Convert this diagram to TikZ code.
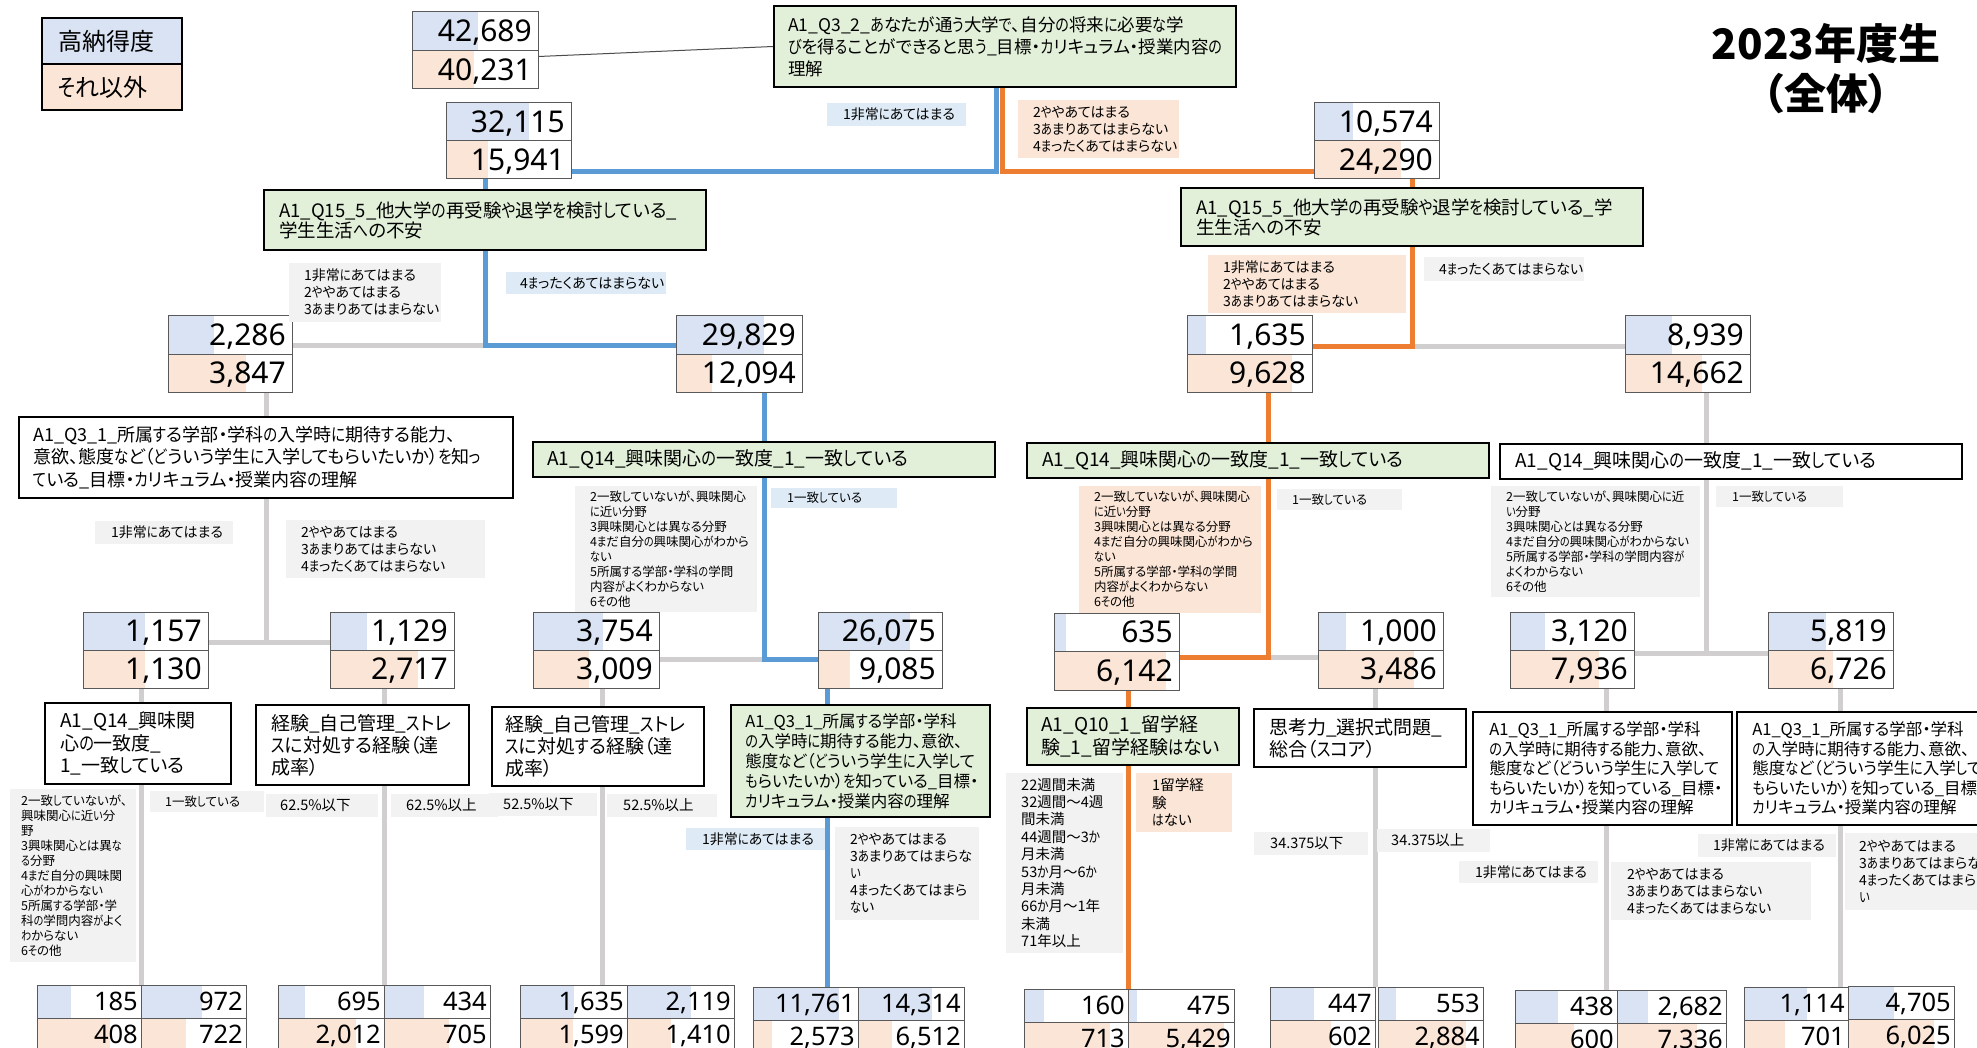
\documentclass[tikz,border=0pt]{standalone}
\usepackage{fontspec}
\setmainfont{Noto Sans CJK JP}[RawFeature=+palt]
\newfontfamily\kanaf{Noto Sans CJK JP}[RawFeature=+palt, FakeStretch=0.8]
\newfontfamily\numf{Noto Sans}
\XeTeXinterchartokenstate=1
\newXeTeXintercharclass\KanaClass
\newcount\kanacnt
\kanacnt="3041
\loop\ifnum\kanacnt<"30FB
 \XeTeXcharclass\kanacnt=\KanaClass
 \advance\kanacnt by 1
\repeat
\XeTeXinterchartoks 0 \KanaClass = {\kanaf}
\XeTeXinterchartoks 1 \KanaClass = {\kanaf}
\XeTeXinterchartoks 2 \KanaClass = {\kanaf}
\XeTeXinterchartoks 3 \KanaClass = {\kanaf}
\XeTeXinterchartoks 4095 \KanaClass = {\kanaf}
\XeTeXinterchartoks \KanaClass 0 = {\normalfont}
\XeTeXinterchartoks \KanaClass 1 = {\normalfont}
\XeTeXinterchartoks \KanaClass 2 = {\normalfont}
\XeTeXinterchartoks \KanaClass 3 = {\normalfont}
\XeTeXinterchartoks \KanaClass 4095 = {\normalfont}
\usetikzlibrary{fit,calc}
\pgfdeclarelayer{bg}
\pgfsetlayers{bg,main}
\definecolor{bfill}{RGB}{218,227,243}
\definecolor{pfill}{RGB}{251,229,214}
\definecolor{qgreen}{RGB}{226,240,217}
\definecolor{lblue}{RGB}{222,235,247}
\definecolor{lgray}{RGB}{242,242,242}
\definecolor{lpeach}{RGB}{251,229,214}
\definecolor{cblue}{RGB}{91,155,213}
\definecolor{corange}{RGB}{237,125,49}
\definecolor{cgray}{RGB}{208,206,206}
\definecolor{nbord}{RGB}{89,89,89}
\tikzset{
 nbox/.style={draw=nbord, line width=1pt, inner sep=0pt},
 numtxt/.style={inner sep=0pt, font=\numf\fontsize{\nfs}{\nfs}\selectfont},
 qg/.style={draw=black, line width=1.8pt, fill=qgreen, inner sep=0pt},
 qw/.style={draw=black, line width=1.8pt, fill=white, inner sep=0pt},
 qtxt/.style={inner sep=0pt, align=left},
 LM/.style={font=\fontsize{14}{17}\selectfont},
 LS/.style={font=\fontsize{12.5}{15}\selectfont},
 LB/.style={font=\fontsize{14.5}{17.4}\selectfont},
 bl/.style={draw=cblue, line width=5pt},
 orl/.style={draw=corange, line width=5pt},
 gr/.style={draw=cgray, line width=5pt},
 rootline/.style={draw=black!70, line width=1pt},
}
\def\nfs{30}\def\npad{6}
\newcommand\nbox[9]{%
 \pgfmathsetmacro\ymid{(#3+#5)/2}%
 \pgfmathsetmacro\ytb{(#3+\ymid)/2+0.357*\nfs}%
 \pgfmathsetmacro\ybb{(\ymid+#5)/2+0.357*\nfs}%
 \pgfmathsetmacro\xr{#4-\npad}%
 \fill[bfill] (#2,#3) rectangle (#6,\ymid);
 \fill[pfill] (#2,\ymid) rectangle (#7,#5);
 \node[nbox, fit={(#2,#3)(#4,#5)}] (#1) {};
 \draw[nbord, line width=1pt] (#2,\ymid) -- (#4,\ymid);
 \node[numtxt, anchor=base east] (#1-t) at (\xr,\ytb) {#8};
 \node[numtxt, anchor=base east] (#1-b) at (\xr,\ybb) {#9};
}
\newcommand\qbox[9][\fontsize{19}{22}\selectfont]{%
 \node[#3, fit={(#4,#5)(#6,#7)}] (#2) {};
 \node[qtxt, font=#1, anchor=west] (#2-t) at ($(#2.west)+(#8,0)$) {#9};
}
\newcommand\lab[9][LM]{%
 \fill[#3] (#4,#5) rectangle (#6,#7);
 \node[#1, anchor=west, align=left, inner sep=0pt] (#2) at ({#4+#8},{(#5+#7)/2}) {#9};
}
\begin{document}
\begin{tikzpicture}[x=1pt,y=-1pt]
\useasboundingbox (0,0) rectangle (1977,1048);
\begin{pgfonlayer}{bg}
\fill[white] (0,0) rectangle (1977,1048);
\end{pgfonlayer}

% legend
\fill[bfill] (42,18) rectangle (182,64);
\fill[pfill] (42,64) rectangle (182,110);
\node[draw=black, line width=2pt, inner sep=0pt, fit={(42,18)(182,110)}] (legend) {};
\draw[black, line width=2pt] (legend.west) -- (legend.east);
\node[anchor=west, inner sep=0pt, font=\fontsize{24}{24}\selectfont] (leg1) at (58,41) {高納得度};
\node[anchor=west, inner sep=0pt, font=\fontsize{24}{24}\selectfont] (leg2) at (58,87) {それ以外};

% title
\node[align=center, inner sep=0pt, font=\bfseries\fontsize{42}{50}\selectfont] (title) at (1826,69) {2023年度生\\（全体）};

% number boxes
\def\nfs{30}\def\npad{6}
\nbox{root}{412}{12}{538}{89}{478}{474}{42,689}{40,231}
\nbox{n32115}{446}{103}{571}{179}{529}{488}{32,115}{15,941}
\nbox{n10574}{1314}{103}{1439}{179}{1353}{1401}{10,574}{24,290}
\nbox{n2286}{168}{316}{292}{392}{214}{246}{2,286}{3,847}
\nbox{n29829}{676}{316}{802}{392}{764}{712}{29,829}{12,094}
\nbox{n1635}{1187}{316}{1312}{392}{1206}{1292}{1,635}{9,628}
\nbox{n8939}{1625}{316}{1750}{392}{1672}{1702}{8,939}{14,662}
\nbox{n1157}{83}{612}{208}{688}{145}{145}{1,157}{1,130}
\nbox{n1129}{330}{612}{454}{688}{367}{418}{1,129}{2,717}
\nbox{n3754}{533}{612}{659}{688}{603}{589}{3,754}{3,009}
\nbox{n26075}{818}{612}{942}{688}{910}{850}{26,075}{9,085}
\nbox{n635}{1054}{613}{1179}{690}{1066}{1166}{635}{6,142}
\nbox{n1000}{1318}{612}{1443}{688}{1346}{1414}{1,000}{3,486}
\nbox{n3120}{1510}{612}{1634}{688}{1545}{1599}{3,120}{7,936}
\nbox{n5819}{1768}{612}{1893}{688}{1826}{1833}{5,819}{6,726}
\def\nfs{25.5}\def\npad{3}
\nbox{b185}{37}{985}{141}{1051}{71}{110}{185}{408}
\nbox{b972}{141}{985}{246}{1051}{202}{186}{972}{722}
\nbox{b695}{278}{985}{384}{1051}{305}{356}{695}{2,012}
\nbox{b434}{384}{985}{490}{1051}{424}{449}{434}{705}
\nbox{b1635}{520}{985}{627}{1051}{574}{573}{1,635}{1,599}
\nbox{b2119}{627}{985}{734}{1051}{691}{671}{2,119}{1,410}
\nbox{b11761}{753}{987}{858}{1053}{839}{772}{11,761}{2,573}
\nbox{b14314}{858}{987}{964}{1053}{932}{892}{14,314}{6,512}
\nbox{b160}{1024}{989}{1128}{1055}{1044}{1110}{160}{713}
\nbox{b475}{1128}{989}{1234}{1055}{1137}{1224}{475}{5,429}
\nbox{b447}{1270}{987}{1375}{1053}{1314}{1331}{447}{602}
\nbox{b553}{1378}{987}{1483}{1053}{1396}{1466}{553}{2,884}
\nbox{b438}{1515}{990}{1617}{1056}{1558}{1574}{438}{600}
\nbox{b2682}{1617}{990}{1726}{1056}{1648}{1697}{2,682}{7,336}
\nbox{b1114}{1744}{987}{1848}{1053}{1807}{1785}{1,114}{701}
\nbox{b4705}{1848}{986}{1954}{1052}{1894}{1934}{4,705}{6,025}

% question boxes
\qbox[\fontsize{17.5}{22}\selectfont]{q32}{qg}{774}{6}{1236}{87}{15}{A1\_Q3\_2\_あなたが通う大学で、自分の将来に必要な学\\びを得ることができると思う\_目標・カリキュラム・授業内容の\\理解}
\qbox[\fontsize{18.5}{20}\selectfont]{q15L}{qg}{264}{190}{706}{250}{16}{A1\_Q15\_5\_他大学の再受験や退学を検討している\_\\学生生活への不安}
\qbox[\fontsize{18.5}{20}\selectfont]{q15R}{qg}{1181}{188}{1643}{246}{16}{A1\_Q15\_5\_他大学の再受験や退学を検討している\_学\\生生活への不安}
\qbox[\fontsize{18}{22.5}\selectfont]{q31L}{qw}{19}{417}{513}{498}{15}{A1\_Q3\_1\_所属する学部・学科の入学時に期待する能力、\\意欲、態度など（どういう学生に入学してもらいたいか）を知っ\\ている\_目標・カリキュラム・授業内容の理解}
\qbox{q14A}{qg}{533}{442}{995}{477}{15}{A1\_Q14\_興味関心の一致度\_1\_一致している}
\qbox{q14B}{qg}{1027}{443}{1489}{478}{16}{A1\_Q14\_興味関心の一致度\_1\_一致している}
\qbox{q14C}{qw}{1500}{444}{1962}{479}{16}{A1\_Q14\_興味関心の一致度\_1\_一致している}
\qbox[\fontsize{19}{22.5}\selectfont]{q14D}{qw}{45}{703}{231}{784}{16}{A1\_Q14\_興味関\\心の一致度\_\\1\_一致している}
\qbox{k1}{qw}{256}{705}{469}{785}{16}{経験\_自己管理\_ストレ\\スに対処する経験（達\\成率）}
\qbox{k2}{qw}{492}{707}{704}{786}{14}{経験\_自己管理\_ストレ\\スに対処する経験（達\\成率）}
\qbox[\fontsize{16.5}{20}\selectfont]{q31G}{qg}{731}{705}{990}{817}{15}{A1\_Q3\_1\_所属する学部・学科\\の入学時に期待する能力、意欲、\\態度など（どういう学生に入学して\\もらいたいか）を知っている\_目標・\\カリキュラム・授業内容の理解}
\qbox[\fontsize{19}{23}\selectfont]{q10}{qg}{1027}{708}{1239}{765}{15}{A1\_Q10\_1\_留学経\\験\_1\_留学経験はない}
\qbox{sk}{qw}{1254}{709}{1466}{767}{16}{思考力\_選択式問題\_\\総合（スコア）}
\qbox[\fontsize{16.5}{19.5}\selectfont]{q31E}{qw}{1473}{712}{1732}{825}{17}{A1\_Q3\_1\_所属する学部・学科\\の入学時に期待する能力、意欲、\\態度など（どういう学生に入学して\\もらいたいか）を知っている\_目標・\\カリキュラム・授業内容の理解}
\qbox[\fontsize{16.5}{19.5}\selectfont]{q31F}{qw}{1737}{712}{2010}{825}{16}{A1\_Q3\_1\_所属する学部・学科\\の入学時に期待する能力、意欲、\\態度など（どういう学生に入学して\\もらいたいか）を知っている\_目標・\\カリキュラム・授業内容の理解}

% branch labels
\lab{lb1}{lblue}{827}{103}{966}{126}{16}{1非常にあてはまる}
\lab{lb2}{lpeach}{1018}{100}{1179}{158}{15}{2ややあてはまる\\3あまりあてはまらない\\4まったくあてはまらない}
\lab{lb3}{lgray}{289}{263}{441}{322}{15}{1非常にあてはまる\\2ややあてはまる\\3あまりあてはまらない}
\lab{lb4}{lblue}{506}{272}{666}{294}{14}{4まったくあてはまらない}
\lab{lb5}{lpeach}{1208}{255}{1406}{313}{15}{1非常にあてはまる\\2ややあてはまる\\3あまりあてはまらない}
\lab{lb6}{lgray}{1424}{257}{1584}{281}{15}{4まったくあてはまらない}
\lab{lb7}{lgray}{95}{521}{233}{544}{16}{1非常にあてはまる}
\lab{lb8}{lgray}{286}{520}{485}{578}{15}{2ややあてはまる\\3あまりあてはまらない\\4まったくあてはまらない}
\lab[LS]{lb9}{lgray}{575}{486}{757}{612}{15}{2一致していないが、興味関心\\に近い分野\\3興味関心とは異なる分野\\4まだ自分の興味関心がわから\\ない\\5所属する学部・学科の学問\\内容がよくわからない\\6その他}
\lab[LS]{lb10}{lblue}{771}{488}{897}{508}{16}{1一致している}
\lab[LS]{lb11}{lpeach}{1079}{486}{1261}{613}{15}{2一致していないが、興味関心\\に近い分野\\3興味関心とは異なる分野\\4まだ自分の興味関心がわから\\ない\\5所属する学部・学科の学問\\内容がよくわからない\\6その他}
\lab[LS]{lb12}{lgray}{1277}{489}{1402}{510}{15}{1一致している}
\lab[LS]{lb13}{lgray}{1491}{486}{1700}{597}{15}{2一致していないが、興味関心に近\\い分野\\3興味関心とは異なる分野\\4まだ自分の興味関心がわからない\\5所属する学部・学科の学問内容が\\よくわからない\\6その他}
\lab[LS]{lb14}{lgray}{1716}{486}{1843}{507}{16}{1一致している}
\lab[LS]{lb15}{lgray}{10}{789}{136}{962}{11}{2一致していないが、\\興味関心に近い分\\野\\3興味関心とは異な\\る分野\\4まだ自分の興味関\\心がわからない\\5所属する学部・学\\科の学問内容がよく\\わからない\\6その他}
\lab[LS]{lb16}{lgray}{150}{791}{264}{812}{15}{1一致している}
\lab[LB]{lb17}{lgray}{266}{794}{378}{817}{14}{62.5\%以下}
\lab[LB]{lb18}{lgray}{391}{794}{498}{817}{15}{62.5\%以上}
\lab[LB]{lb19}{lgray}{489}{793}{597}{816}{14}{52.5\%以下}
\lab[LB]{lb20}{lgray}{607}{794}{717}{817}{16}{52.5\%以上}
\lab{lb21}{lblue}{686}{828}{825}{850}{16}{1非常にあてはまる}
\lab{lb22}{lgray}{835}{827}{979}{920}{15}{2ややあてはまる\\3あまりあてはまらな\\い\\4まったくあてはまら\\ない}
\lab[LB]{lb23}{lgray}{1006}{773}{1123}{953}{15}{22週間未満\\32週間～4週\\間未満\\44週間～3か\\月未満\\53か月～6か\\月未満\\66か月～1年\\未満\\71年以上}
\lab[LB]{lb24}{lpeach}{1136}{773}{1232}{832}{16}{1留学経\\験\\はない}
\lab[LB]{lb25}{lgray}{1254}{832}{1368}{855}{16}{34.375以下}
\lab[LB]{lb26}{lgray}{1377}{829}{1490}{852}{14}{34.375以上}
\lab{lb27}{lgray}{1459}{861}{1598}{883}{16}{1非常にあてはまる}
\lab{lb28}{lgray}{1611}{862}{1811}{920}{16}{2ややあてはまる\\3あまりあてはまらない\\4まったくあてはまらない}
\lab{lb29}{lgray}{1698}{834}{1836}{857}{15}{1非常にあてはまる}
\lab{lb30}{lgray}{1845}{833}{1990}{910}{14}{2ややあてはまる\\3あまりあてはまらない\\4まったくあてはまらな\\い}

% connectors (behind)
\coordinate (j31) at ($(n1157.east)+(0,-8)$);
\coordinate (j14a) at ($(n26075.west)+(0,9)$);
\coordinate (j14b) at ($(q14B.south)+(10,0)$);
\coordinate (k14b) at ($(n1000.west)+(0,7)$);
\coordinate (j14c) at ($(q14C.south)+(-25,0)$);
\coordinate (k14c) at ($(n3120.east)+(0,3)$);
\coordinate (e3) at (602,985);
\coordinate (e4) at (827,987);
\coordinate (e7) at (1606,990);
\coordinate (e8) at (1840,987);
\begin{pgfonlayer}{bg}
\draw[rootline] ($(root.east)+(0,6)$) -- (q32.west);
\draw[bl] ($(q32.south)+(-9,0)$) |- ($(n32115.south east)+(0,-8)$);
\draw[orl] ($(q32.south)+(-3,0)$) |- ($(n10574.south west)+(0,-8)$);
% left level 2
\draw[bl] (n32115.south -| q15L.north) -- (q15L.north);
\draw[gr] ($(n2286.east)+(0,-9)$) -- ($(n29829.west)+(0,-9)$);
\draw[bl] (q15L.south) |- ($(n29829.west)+(0,-9)$);
% right level 2
\draw[orl] (n10574.south -| q15R.north) -- (q15R.north);
\draw[gr] ($(n1635.east)+(0,-8)$) -- ($(n8939.west)+(0,-8)$);
\draw[orl] (q15R.south) |- ($(n1635.east)+(0,-8)$);
% q31L
\draw[gr] (n2286.south -| q31L.north) -- (q31L.north);
\draw[gr] (q31L.south) -- (q31L.south |- j31);
\draw[gr] (j31) -- (n1129.west |- j31);
% q14A
\draw[bl] (n29829.south -| q14A.north) -- (q14A.north);
\draw[gr] (n3754.east |- j14a) -- (q14A.south |- j14a);
\draw[bl] (q14A.south) |- (j14a);
% q14B
\draw[orl] (n1635.south -| j14b) -- (q14B.north -| j14b);
\draw[gr] (j14b |- k14b) -- (k14b);
\draw[orl] (j14b) |- (n635.east |- k14b);
% q14C
\draw[gr] (n8939.south -| j14c) -- (q14C.north -| j14c);
\draw[gr] (j14c) -- (j14c |- k14c);
\draw[gr] (n3120.east |- k14c) -- (n5819.west |- k14c);
% bottom level
\draw[gr] (n1157.south -| b185.north east) -- (b185.north east);
\draw[gr] (n1129.south -| b695.north east) -- (b695.north east);
\draw[gr] (n3754.south -| e3) -- (e3);
\draw[bl] (n26075.south -| e4) -- (e4);
\draw[orl] (n635.south -| b160.north east) -- (b160.north east);
\draw[gr] (n1000.south -| b447.north east) -- (b447.north east);
\draw[gr] (n3120.south -| e7) -- (e7);
\draw[gr] (n5819.south -| e8) -- (e8);
\end{pgfonlayer}
\end{tikzpicture}
\end{document}
